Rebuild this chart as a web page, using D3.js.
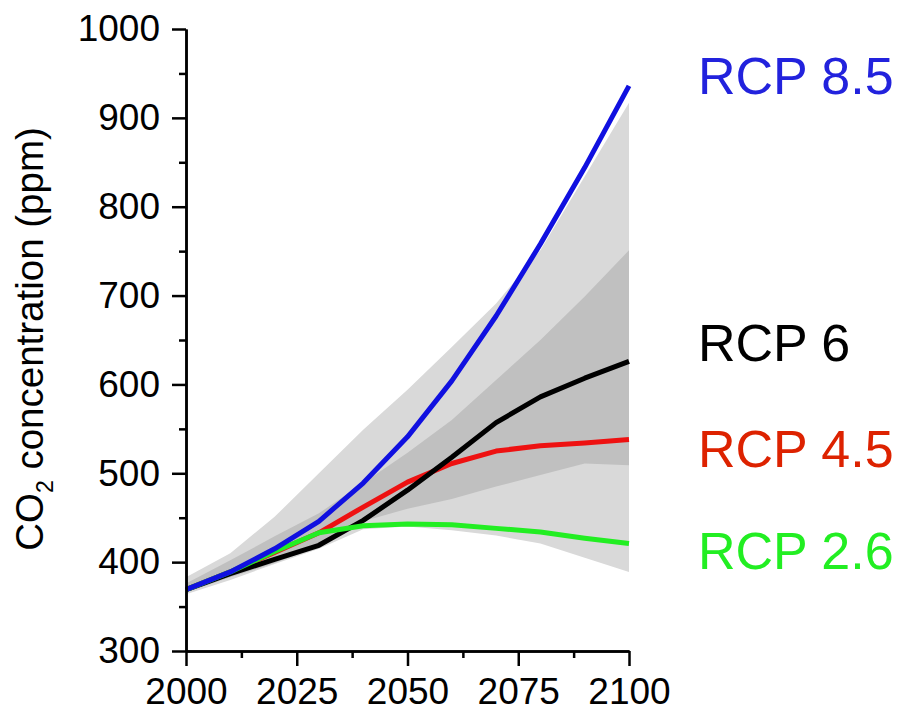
<!DOCTYPE html>
<html>
<head>
<meta charset="utf-8">
<script src="https://cdn.jsdelivr.net/npm/d3@7"></script>
<style>
  html, body { margin: 0; padding: 0; background: #fff; }
  svg { display: block; }
  text { font-family: "Liberation Sans", Arial, Helvetica, sans-serif; }
</style>
</head>
<body>
<svg id="chart" width="901" height="711"></svg>
<script>
// ---- data ----
const years = [2000, 2010, 2020, 2030, 2040, 2050, 2060, 2070, 2080, 2090, 2100];
const rcp85 = [369, 389, 415, 446, 489, 541, 604, 677, 758, 844, 936];
const rcp6  = [369, 387, 403, 419, 447, 481, 518, 557, 586, 607, 626];
const rcp45 = [369, 389, 411, 433, 462, 490, 511, 525, 531, 534, 538];
const rcp26 = [369, 389, 412, 433, 441, 443, 442, 438, 434, 427, 421];
const lightLow  = [364, 380, 398, 415, 437, 440, 436, 430, 421, 405, 389];
const lightHigh = [383, 410, 451, 500, 549, 594, 642, 691, 751, 834, 917];
const darkLow   = [366, 383, 399, 418, 446, 460, 471, 485, 498, 511, 509];
const darkHigh  = [376, 402, 429, 455, 489, 523, 560, 605, 650, 699, 751];
const yMajorTicks = [300, 400, 500, 600, 700, 800, 900, 1000];
const yMinorTicks = [350, 450, 550, 650, 750, 850, 950];
const xMajorTicks = [2000, 2025, 2050, 2075, 2100];
const xMinorTicks = [2012.5, 2037.5, 2062.5, 2087.5];
const seriesNames = ["RCP 8.5", "RCP 6", "RCP 4.5", "RCP 2.6"];
const yAxisTitle = "concentration (ppm)";

// ---- chart ----
const svg = d3.select("#chart");
const x = d3.scaleLinear().domain([2000, 2100]).range([186, 629]);
const y = d3.scaleLinear().domain([300, 1000]).range([651, 29]);

const bandArea = (lo, hi) => d3.area()
  .x((d, i) => x(years[i]))
  .y0((d, i) => y(lo[i]))
  .y1((d, i) => y(hi[i]))(years);

svg.append("path").attr("d", bandArea(lightLow, lightHigh)).attr("fill", "#d9d9d9");
svg.append("path").attr("d", bandArea(darkLow, darkHigh)).attr("fill", "#c0c0c0");

const lineGen = d3.line().x((d, i) => x(years[i])).y(d => y(d));
const series = [
  { v: rcp45, c: "#ee1111" },
  { v: rcp6,  c: "#000000" },
  { v: rcp26, c: "#22ee22" },
  { v: rcp85, c: "#1010e0" }
];
series.forEach(s => {
  svg.append("path").attr("d", lineGen(s.v))
    .attr("fill", "none").attr("stroke", s.c)
    .attr("stroke-width", 5).attr("stroke-linejoin", "round").attr("stroke-linecap", "butt");
});

// axes
function styleAxis(g) {
  g.select(".domain").attr("stroke", "#000").attr("stroke-width", 2.5);
  g.selectAll(".tick line").attr("stroke", "#000").attr("stroke-width", 2.5);
  g.selectAll("text").attr("font-size", 37).attr("fill", "#000")
    .style("font-family", '"Liberation Sans", Arial, Helvetica, sans-serif');
}
const yAxisMajor = svg.append("g").attr("transform", "translate(186,0)")
  .call(d3.axisLeft(y).tickValues(yMajorTicks).tickSize(14).tickSizeOuter(0).tickPadding(12).tickFormat(d3.format("d")));
styleAxis(yAxisMajor);
const yAxisMinor = svg.append("g").attr("transform", "translate(186,0)")
  .call(d3.axisLeft(y).tickValues(yMinorTicks).tickSize(7).tickSizeOuter(0).tickFormat(""));
styleAxis(yAxisMinor);

const xAxisMajor = svg.append("g").attr("transform", "translate(0,651)")
  .call(d3.axisBottom(x).tickValues(xMajorTicks).tickSize(15).tickSizeOuter(0).tickPadding(12).tickFormat(d3.format("d")));
styleAxis(xAxisMajor);
const xAxisMinor = svg.append("g").attr("transform", "translate(0,651)")
  .call(d3.axisBottom(x).tickValues(xMinorTicks).tickSize(7).tickSizeOuter(0).tickFormat(""));
styleAxis(xAxisMinor);

// y axis title
const yt = svg.append("text")
  .attr("transform", "translate(43,339) rotate(-90)")
  .attr("text-anchor", "middle")
  .attr("font-size", 38.5).attr("fill", "#000");
yt.append("tspan").text("CO");
yt.append("tspan").attr("font-size", 23).attr("dy", "0.45em").text("2");
yt.append("tspan").attr("dy", "-0.27em").text("\u00a0" + yAxisTitle);

// series labels
const labelColors = ["#2222dd", "#000000", "#dd2200", "#22ee22"];
const labelBaselines = [94, 361, 467, 569];
seriesNames.forEach((n, i) => {
  svg.append("text")
    .attr("x", 698)
    .attr("y", labelBaselines[i])
    .attr("font-size", 52)
    .attr("fill", labelColors[i])
    .text(n);
});
</script>
</body>
</html>
